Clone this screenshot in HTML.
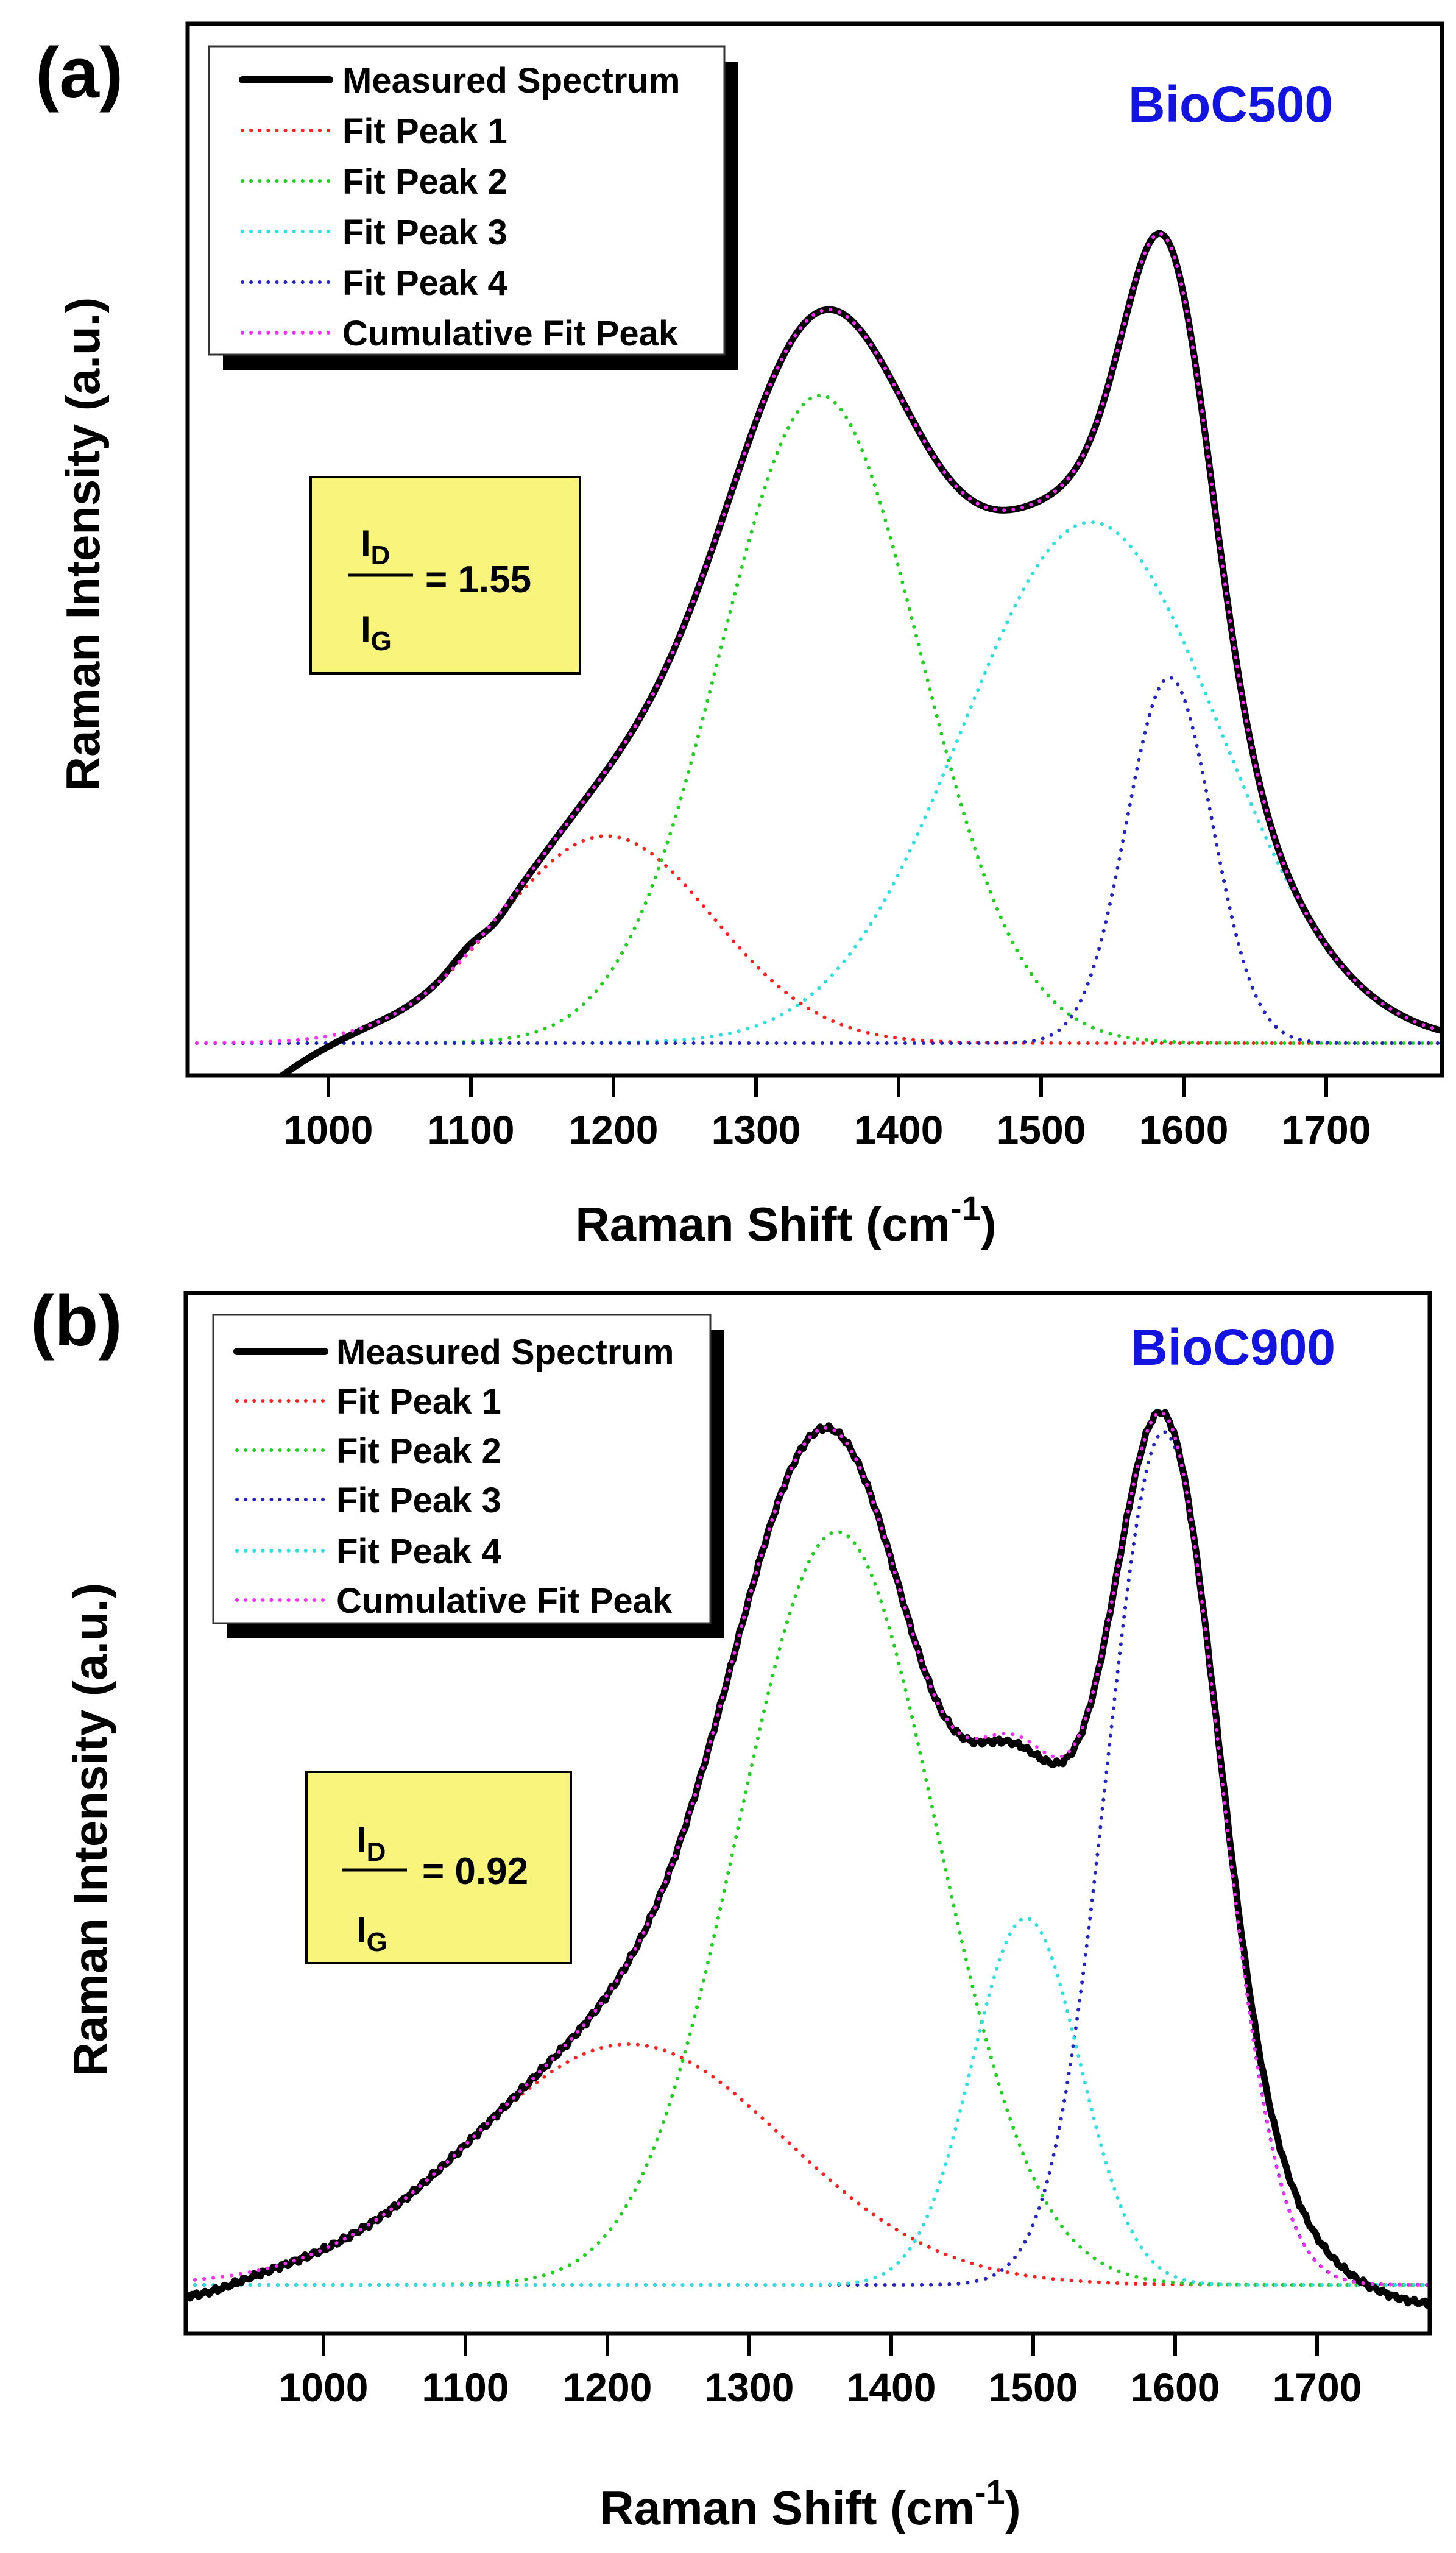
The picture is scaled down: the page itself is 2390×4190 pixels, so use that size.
<!DOCTYPE html>
<html><head><meta charset="utf-8"><style>
html,body{margin:0;padding:0;background:#fff}
svg{display:block}
text{font-family:"Liberation Sans",Arial,sans-serif;font-weight:bold}
</style></head><body>
<svg id="s" width="2390" height="4190" viewBox="0 0 2390 4190" xmlns="http://www.w3.org/2000/svg">
<rect width="2390" height="4190" fill="#fff"/>
<g id="plots"></g>
<text x="58" y="160" font-size="118">(a)</text>
<text x="1852" y="200" font-size="84" fill="#1414e0">BioC500</text>
<text transform="translate(163,893) rotate(-90)" font-size="78" text-anchor="middle">Raman Intensity (a.u.)</text>
<text x="1290" y="2036" font-size="78" text-anchor="middle">Raman Shift (cm<tspan font-size="56" dy="-34">-1</tspan><tspan dy="34">)</tspan></text>
<g font-size="66" text-anchor="middle">
<text x="539" y="1877">1000</text><text x="773" y="1877">1100</text><text x="1007" y="1877">1200</text><text x="1241" y="1877">1300</text><text x="1475" y="1877">1400</text><text x="1709" y="1877">1500</text><text x="1943" y="1877">1600</text><text x="2177" y="1877">1700</text>
</g>
<rect x="366" y="101" width="846" height="506" fill="#000"/>
<rect x="343" y="76" width="846" height="506" fill="#fff" stroke="#333" stroke-width="3"/>
<g font-size="58">
<text x="562" y="152">Measured Spectrum</text>
<text x="562" y="235">Fit Peak 1</text>
<text x="562" y="318">Fit Peak 2</text>
<text x="562" y="401">Fit Peak 3</text>
<text x="562" y="484">Fit Peak 4</text>
<text x="562" y="567">Cumulative Fit Peak</text>
</g>
<line x1="398" y1="131" x2="541" y2="131" stroke="#000" stroke-width="12" stroke-linecap="round"/>
<g stroke-width="6" stroke-linecap="round" stroke-dasharray="0.1 14">
<line x1="398" y1="214" x2="541" y2="214" stroke="#ff2020"/>
<line x1="398" y1="297" x2="541" y2="297" stroke="#20d020"/>
<line x1="398" y1="380" x2="541" y2="380" stroke="#30e0e0"/>
<line x1="398" y1="463" x2="541" y2="463" stroke="#2424c0"/>
<line x1="398" y1="546" x2="541" y2="546" stroke="#ff30ff"/>
</g>
<rect x="510" y="783" width="442" height="322" fill="#f8f47c" stroke="#000" stroke-width="4"/>
<text x="592" y="912" font-size="60">I<tspan font-size="44" dy="14">D</tspan></text>
<line x1="571" y1="944" x2="678" y2="944" stroke="#000" stroke-width="5"/>
<text x="592" y="1053" font-size="60">I<tspan font-size="44" dy="14">G</tspan></text>
<text x="698" y="972" font-size="62">= 1.55</text>

<text x="50" y="2208" font-size="118">(b)</text>
<text x="1856" y="2240" font-size="84" fill="#1414e0">BioC900</text>
<text transform="translate(175,3003) rotate(-90)" font-size="78" text-anchor="middle">Raman Intensity (a.u.)</text>
<text x="1330" y="4143" font-size="78" text-anchor="middle">Raman Shift (cm<tspan font-size="56" dy="-34">-1</tspan><tspan dy="34">)</tspan></text>
<g font-size="66" text-anchor="middle">
<text x="531" y="3941">1000</text><text x="764" y="3941">1100</text><text x="997" y="3941">1200</text><text x="1230" y="3941">1300</text><text x="1463" y="3941">1400</text><text x="1696" y="3941">1500</text><text x="1929" y="3941">1600</text><text x="2162" y="3941">1700</text>
</g>
<rect x="373" y="2183" width="816" height="506" fill="#000"/>
<rect x="350" y="2158" width="816" height="506" fill="#fff" stroke="#333" stroke-width="3"/>
<g font-size="58">
<text x="552" y="2239">Measured Spectrum</text>
<text x="552" y="2320">Fit Peak 1</text>
<text x="552" y="2401">Fit Peak 2</text>
<text x="552" y="2482">Fit Peak 3</text>
<text x="552" y="2566">Fit Peak 4</text>
<text x="552" y="2647">Cumulative Fit Peak</text>
</g>
<line x1="389" y1="2218" x2="533" y2="2218" stroke="#000" stroke-width="12" stroke-linecap="round"/>
<g stroke-width="6" stroke-linecap="round" stroke-dasharray="0.1 14">
<line x1="389" y1="2299" x2="533" y2="2299" stroke="#ff2020"/>
<line x1="389" y1="2380" x2="533" y2="2380" stroke="#20d020"/>
<line x1="389" y1="2461" x2="533" y2="2461" stroke="#2424c0"/>
<line x1="389" y1="2545" x2="533" y2="2545" stroke="#30e0e0"/>
<line x1="389" y1="2626" x2="533" y2="2626" stroke="#ff30ff"/>
</g>
<rect x="503" y="2908" width="434" height="314" fill="#f8f47c" stroke="#000" stroke-width="4"/>
<text x="585" y="3040" font-size="60">I<tspan font-size="44" dy="14">D</tspan></text>
<line x1="562" y1="3069" x2="668" y2="3069" stroke="#000" stroke-width="5"/>
<text x="585" y="3188" font-size="60">I<tspan font-size="44" dy="14">G</tspan></text>
<text x="693" y="3092" font-size="62">= 0.92</text>
</svg>
<script>
(function(){
var NS="http://www.w3.org/2000/svg",g=document.getElementById("plots");
function el(n,a){var e=document.createElementNS(NS,n);for(var k in a)e.setAttribute(k,a[k]);g.appendChild(e);return e;}
function gau(x,c,a,s){return a*Math.exp(-Math.pow((x-c)/s,2)/2);}
function panel(P){
  var X=function(v){return P.x1000+(v-1000)*P.k;};
  var v0=1000+(P.L-P.x1000)/P.k, v1=1000+(P.R-P.x1000)/P.k;
  var cid="c"+P.id;
  var cp=el("clipPath",{id:cid});
  var r=document.createElementNS(NS,"rect");r.setAttribute("x",P.L);r.setAttribute("y",P.T);r.setAttribute("width",P.R-P.L);r.setAttribute("height",P.B-P.T);cp.appendChild(r);
  function path(f,attrs){
    var d="";for(var v=v0;v<=v1+0.01;v+=1.5){var y=P.base-f(v);d+=(d?"L":"M")+X(v).toFixed(1)+","+y.toFixed(1);}
    attrs.d=d;attrs.fill="none";attrs["clip-path"]="url(#"+cid+")";return el("path",attrs);
  }
  var dot={"stroke-width":6,"stroke-linecap":"round","stroke-dasharray":"0.1 15"};
  function cum(v){var s=0;P.pk.forEach(function(p){s+=gau(v,p[0],p[1],p[2]);});return s;}
  P.pk.forEach(function(p){var a=Object.assign({stroke:p[3]},dot);path(function(v){return gau(v,p[0],p[1],p[2]);},a);});
  path(P.meas(cum),{stroke:"#000","stroke-width":11,"stroke-linejoin":"round"});
  path(cum,Object.assign({stroke:"#ff30ff"},dot));
  el("rect",{x:P.L,y:P.T,width:P.R-P.L,height:P.B-P.T,fill:"none",stroke:"#000","stroke-width":7});
  for(var t=1000;t<=1700;t+=100){el("line",{x1:X(t),y1:P.B,x2:X(t),y2:P.B+36,stroke:"#000","stroke-width":6});}
}
panel({id:"a",L:308,R:2367,T:39,B:1765,x1000:539,k:2.34,base:1712,
  pk:[[1195,340,75,"#ff2020"],[1345,1063,70,"#20d020"],[1535,855,90,"#30e0e0"],[1590,600,30,"#2424c0"]],
  meas:function(cum){return function(v){var m=cum(v);if(v<1040)m-=Math.pow((1040-v)/70,2)*53;
    m+=gau(v,1100,12,12)-gau(v,1115,10,10);return m;};}});
panel({id:"b",L:305,R:2347,T:2122,B:3830,x1000:531,k:2.33,base:3750,
  pk:[[1215,395,110,"#ff2020"],[1362,1236,70,"#20d020"],[1592,1400,40,"#2424c0"],[1495,602,38,"#30e0e0"]],
  meas:function(cum){return function(v){var m=cum(v)+gau(v,1680,55,28)-gau(v,1780,30,30)-gau(v,905,25,30)-gau(v,1495,15,25);
    m+=Math.sin(v*0.9)*3+Math.sin(v*2.3)*2;return m;};}});
})();
</script>
</body></html>
